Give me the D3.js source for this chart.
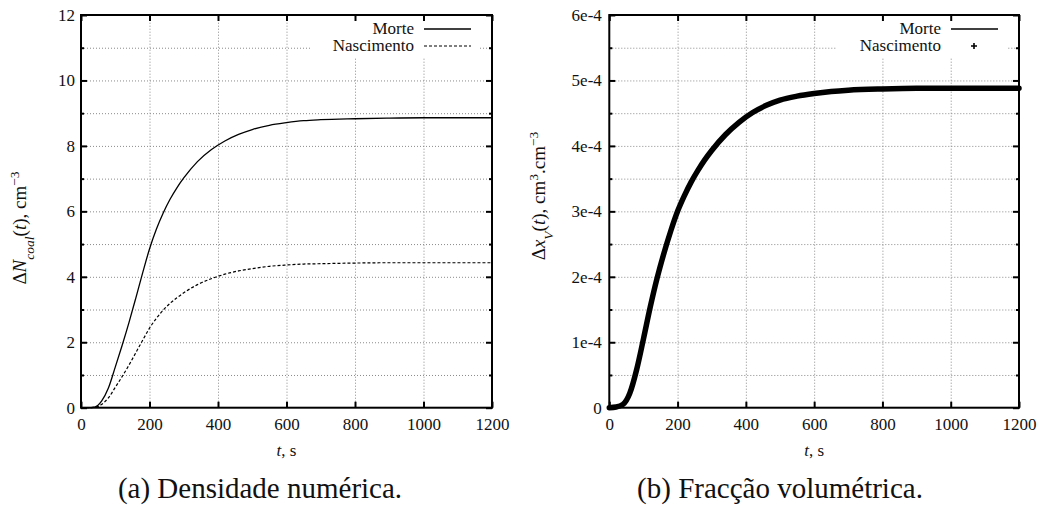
<!DOCTYPE html>
<html lang="pt">
<head>
<meta charset="UTF-8">
<title>Coalescência - Morte / Nascimento</title>
<script src="https://d3js.org/d3.v7.min.js"></script>
<style>
  body { margin: 0; background: #fff; }
  svg { background: #fff; }
  svg text { font-family: "Liberation Serif", "DejaVu Serif", "Noto Serif", serif; }
  .grid line { stroke: #8a8a8a; stroke-width: 1; stroke-dasharray: 1,2; }
  .grid path { display: none; }
  .ax path { display: none; }
  .ax line { stroke: #000; stroke-width: 2; }
  .ax text { font-size: 17px; fill: #111; }
</style>
</head>
<body>
<div id="chart"></div>
<script>
const SERIF = "'Liberation Serif', 'DejaVu Serif', 'Noto Serif', serif";

// time axis (s)
const tSec = [0, 20, 40, 60, 80, 100, 120, 140, 160, 180, 200, 220, 240, 260, 280, 300,
              340, 380, 420, 460, 500, 550, 600, 650, 700, 800, 900, 1000, 1100, 1200];

// (a) densidade numerica, cm^-3
const morteN = [0, 0, 0.02, 0.2, 0.6, 1.24, 1.9, 2.6, 3.35, 4.12, 4.85, 5.45, 5.95, 6.37, 6.72, 7.02,
                7.52, 7.88, 8.15, 8.35, 8.5, 8.63, 8.71, 8.77, 8.8, 8.83, 8.85, 8.86, 8.86, 8.86];
const nascN  = [0, 0, 0.01, 0.1, 0.3, 0.62, 0.95, 1.3, 1.68, 2.06, 2.43, 2.73, 2.98, 3.19, 3.36, 3.51,
                3.76, 3.94, 4.08, 4.18, 4.25, 4.32, 4.36, 4.39, 4.4, 4.42, 4.43, 4.43, 4.43, 4.43];

// (b) fraccao volumetrica
const morteXv = [0, 0.01e-4, 0.05e-4, 0.22e-4, 0.58e-4, 1.05e-4, 1.54e-4, 1.98e-4, 2.36e-4, 2.7e-4, 3.0e-4,
                 3.24e-4, 3.45e-4, 3.63e-4, 3.79e-4, 3.93e-4, 4.17e-4, 4.36e-4, 4.51e-4, 4.62e-4, 4.70e-4,
                 4.76e-4, 4.80e-4, 4.83e-4, 4.85e-4, 4.87e-4, 4.88e-4, 4.88e-4, 4.88e-4, 4.88e-4];
const nascXv  = [0, 0.01e-4, 0.05e-4, 0.22e-4, 0.58e-4, 1.05e-4, 1.54e-4, 1.98e-4, 2.36e-4, 2.7e-4, 3.0e-4,
                 3.24e-4, 3.45e-4, 3.63e-4, 3.79e-4, 3.93e-4, 4.17e-4, 4.36e-4, 4.51e-4, 4.62e-4, 4.70e-4,
                 4.76e-4, 4.80e-4, 4.83e-4, 4.85e-4, 4.87e-4, 4.88e-4, 4.88e-4, 4.88e-4, 4.88e-4];

// ticks
const xTicks = [0, 200, 400, 600, 800, 1000, 1200];
const yTicksA = [0, 2, 4, 6, 8, 10, 12];
const yMinorA = [1, 3, 5, 7, 9, 11];
const yTicksB = [0, 1e-4, 2e-4, 3e-4, 4e-4, 5e-4, 6e-4];
const yLabelsB = ["0", "1e-4", "2e-4", "3e-4", "4e-4", "5e-4", "6e-4"];
const yMinorB = [0.5e-4, 1.5e-4, 2.5e-4, 3.5e-4, 4.5e-4, 5.5e-4];
const seriesNames = ["Morte", "Nascimento"];

const W = 1043, H = 508;
const svg = d3.select("#chart").append("svg")
  .attr("width", W).attr("height", H);

function panel(o) {
  const x = d3.scaleLinear().domain([0, 1200]).range([o.left, o.right]);
  const y = d3.scaleLinear().domain([0, o.yMax]).range([o.bottom, o.top]);
  const g = svg.append("g");
  const h = o.bottom - o.top, w = o.right - o.left;

  // grid (dotted)
  g.append("g").attr("class", "grid")
    .attr("transform", `translate(0,${o.bottom})`)
    .call(d3.axisBottom(x).tickValues(xTicks.slice(1, -1)).tickSize(-h).tickFormat(""));
  g.append("g").attr("class", "grid")
    .attr("transform", `translate(${o.left},0)`)
    .call(d3.axisLeft(y).tickValues(o.yMinor.concat(o.yTicks.slice(1, -1))).tickSize(-w).tickFormat(""));

  // legend background hides the grid under it
  g.append("rect")
    .attr("x", o.right - 182).attr("y", o.top + 1)
    .attr("width", 170).attr("height", 41)
    .attr("fill", "#fff");

  // curves
  const line = ys => d3.line()
    .x((d, i) => x(tSec[i]))
    .y(d => y(d))
    .curve(d3.curveMonotoneX)(ys);

  if (o.band) {
    // dense "+" points merge into a thick band
    g.append("path").attr("d", line(o.s2))
      .attr("fill", "none").attr("stroke", "#000")
      .attr("stroke-width", 5.5).attr("stroke-linecap", "round");
  } else {
    g.append("path").attr("d", line(o.s2))
      .attr("fill", "none").attr("stroke", "#000")
      .attr("stroke-width", 1.2).attr("stroke-dasharray", "3,2");
  }
  g.append("path").attr("d", line(o.s1))
    .attr("fill", "none").attr("stroke", "#000").attr("stroke-width", 1.3);

  // ticks (inward) and labels
  g.append("g").attr("class", "ax")
    .attr("transform", `translate(0,${o.bottom})`)
    .call(d3.axisBottom(x).tickValues(xTicks).tickSizeInner(-6).tickSizeOuter(0).tickPadding(10)
      .tickFormat(d3.format("d")));
  g.append("g").attr("class", "ax")
    .attr("transform", `translate(0,${o.top})`)
    .call(d3.axisTop(x).tickValues(xTicks).tickSizeInner(-6).tickSizeOuter(0).tickFormat(""));
  g.append("g").attr("class", "ax")
    .attr("transform", `translate(${o.left},0)`)
    .call(d3.axisLeft(y).tickValues(o.yTicks).tickSizeInner(-6).tickSizeOuter(0)
      .tickPadding(o.yPad).tickFormat((d, i) => o.yLabels[i]));
  g.append("g").attr("class", "ax")
    .attr("transform", `translate(${o.right},0)`)
    .call(d3.axisRight(y).tickValues(o.yTicks).tickSizeInner(-6).tickSizeOuter(0).tickFormat(""));
  g.append("g").attr("class", "ax")
    .attr("transform", `translate(${o.left},0)`)
    .call(d3.axisLeft(y).tickValues(o.yMinor).tickSizeInner(-3).tickSizeOuter(0).tickFormat(""));
  g.append("g").attr("class", "ax")
    .attr("transform", `translate(${o.right},0)`)
    .call(d3.axisRight(y).tickValues(o.yMinor).tickSizeInner(-3).tickSizeOuter(0).tickFormat(""));
  g.selectAll(".ax").attr("font-family", SERIF);

  // frame
  g.append("rect")
    .attr("x", o.left).attr("y", o.top).attr("width", w).attr("height", h)
    .attr("fill", "none").attr("stroke", "#000").attr("stroke-width", 2);

  // legend
  const lx = o.right - 78;
  [0, 1].forEach(i => {
    const ly = o.top + 14 + i * 17;
    g.append("text").attr("x", lx).attr("y", ly + 5)
      .attr("font-family", SERIF)
      .attr("text-anchor", "end").attr("font-size", 17).attr("fill", "#111")
      .text(seriesNames[i]);
  });
  g.append("line").attr("x1", lx + 10).attr("x2", lx + 57)
    .attr("y1", o.top + 14).attr("y2", o.top + 14)
    .attr("stroke", "#000").attr("stroke-width", 1.3);
  if (o.band) {
    const cx = lx + 33, cy = o.top + 31;
    g.append("path").attr("d", `M${cx - 3},${cy}H${cx + 3}M${cx},${cy - 3}V${cy + 3}`)
      .attr("stroke", "#000").attr("stroke-width", 1.6);
  } else {
    g.append("line").attr("x1", lx + 10).attr("x2", lx + 57)
      .attr("y1", o.top + 31).attr("y2", o.top + 31)
      .attr("stroke", "#000").attr("stroke-width", 1.2).attr("stroke-dasharray", "3,2");
  }

  // x title
  const xt = g.append("text")
    .attr("x", (o.left + o.right) / 2).attr("y", o.bottom + 48)
    .attr("font-family", SERIF)
    .attr("text-anchor", "middle").attr("font-size", 17).attr("fill", "#111");
  xt.append("tspan").attr("font-style", "italic").text("t");
  xt.append("tspan").text(", s");

  // y title
  const yt = g.append("text")
    .attr("transform", `translate(${o.yTitleX},${o.yTitleY}) rotate(-90)`)
    .attr("font-family", SERIF)
    .attr("text-anchor", "middle").attr("font-size", 19).attr("fill", "#111");
  o.yTitle.forEach(p => {
    const s = yt.append("tspan").text(p.t);
    if (p.i) s.attr("font-style", "italic");
    if (p.sub) s.attr("baseline-shift", "sub").attr("font-size", 13.5);
    if (p.sup) s.attr("baseline-shift", "super").attr("font-size", 13.5);
  });

  // caption
  svg.append("text")
    .attr("x", o.capX).attr("y", 498)
    .attr("font-family", SERIF)
    .attr("text-anchor", "middle").attr("font-size", 29).attr("fill", "#111")
    .text(o.caption);
}

panel({
  left: 81, right: 492, top: 15, bottom: 407.7, yMax: 12,
  yTicks: yTicksA, yLabels: yTicksA.map(String), yMinor: yMinorA, yPad: 6,
  s1: morteN, s2: nascN, band: false, yTitleX: 26, yTitleY: 228,
  yTitle: [{ t: "Δ" }, { t: "N", i: 1 }, { t: "coal", i: 1, sub: 1 }, { t: "(" }, { t: "t", i: 1 },
           { t: "), cm" }, { t: "−3", sup: 1 }],
  capX: 260, caption: "(a) Densidade numérica."
});

panel({
  left: 609.3, right: 1019, top: 15, bottom: 407.7, yMax: 6e-4,
  yTicks: yTicksB, yLabels: yLabelsB, yMinor: yMinorB, yPad: 7.5,
  s1: morteXv, s2: nascXv, band: true, yTitleX: 545, yTitleY: 196,
  yTitle: [{ t: "Δ" }, { t: "x", i: 1 }, { t: "V", i: 1, sub: 1 }, { t: "(" }, { t: "t", i: 1 },
           { t: "), cm" }, { t: "3", sup: 1 }, { t: ".cm" }, { t: "−3", sup: 1 }],
  capX: 780, caption: "(b) Fracção volumétrica."
});
</script>
</body>
</html>
